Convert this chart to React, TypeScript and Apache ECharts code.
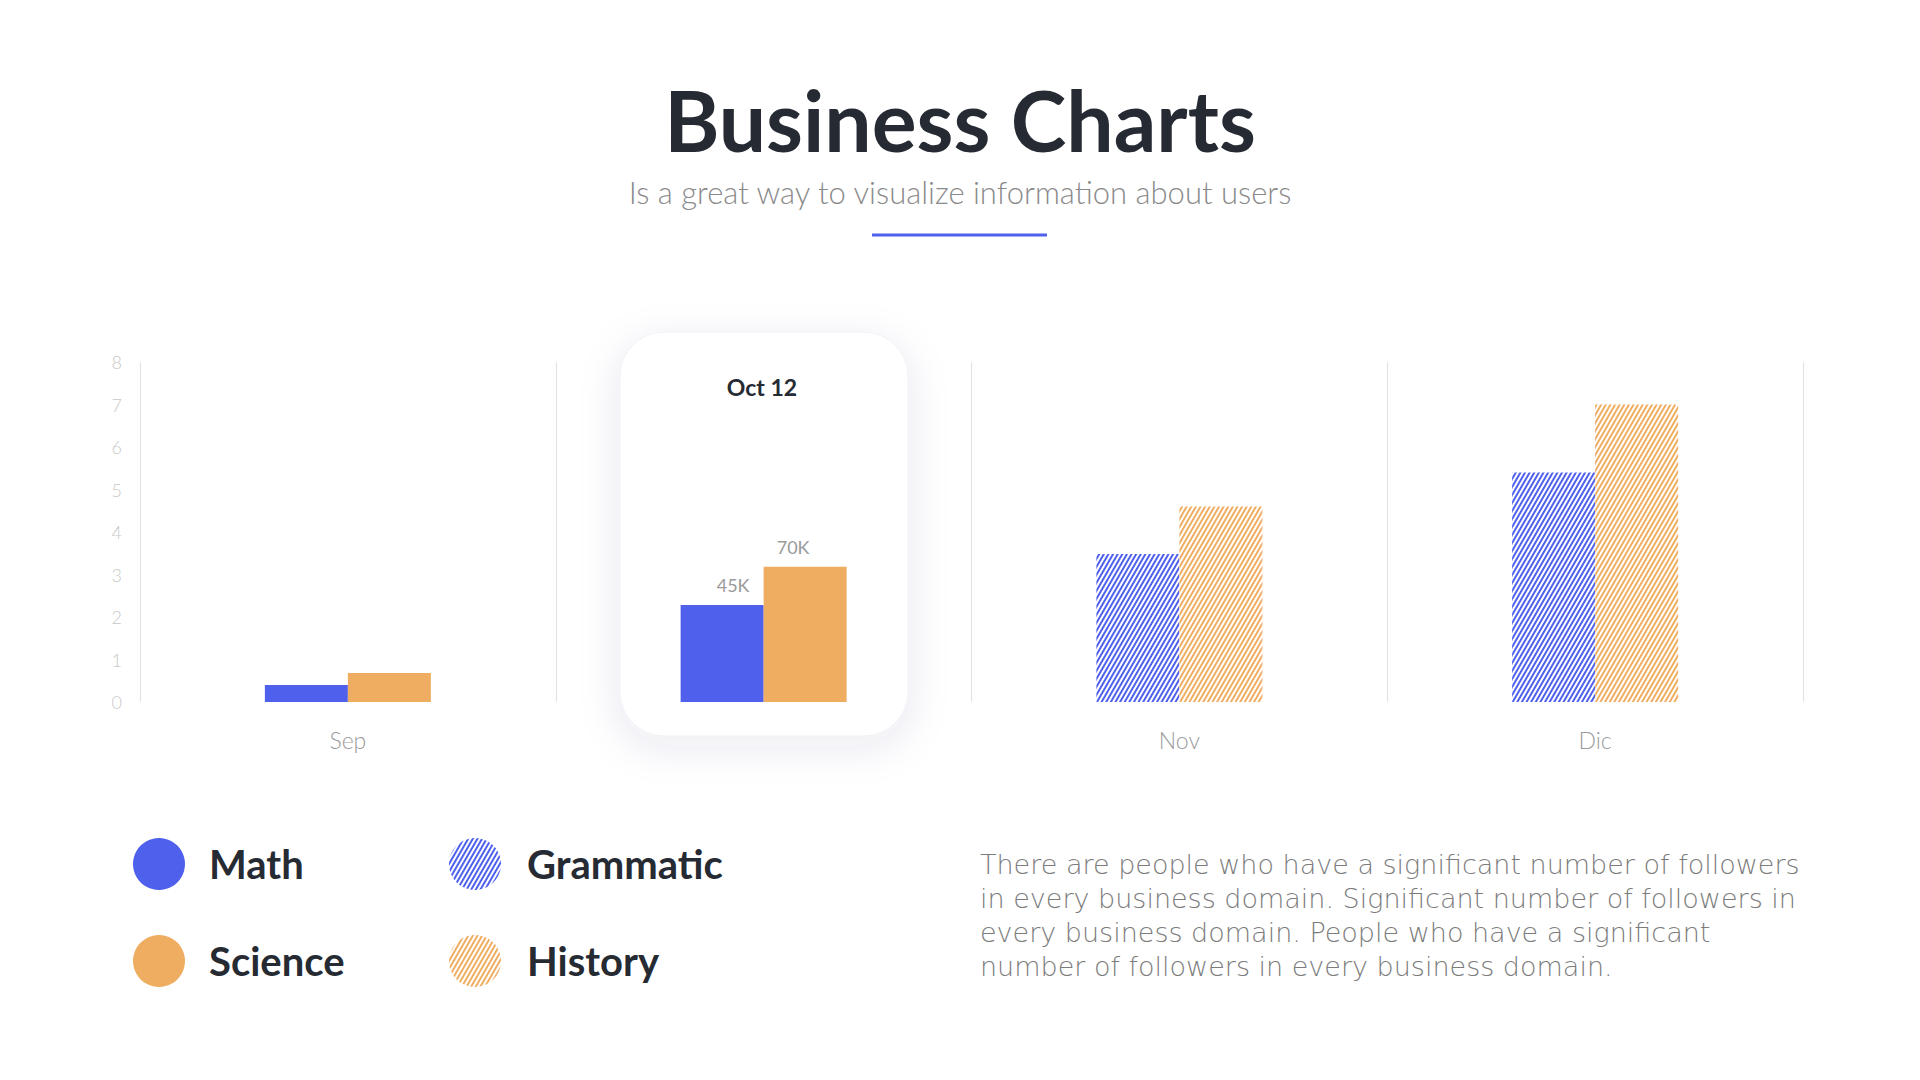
import React, { useEffect, useRef } from "react";
import * as echarts from "echarts";

// chart values
const months = ["Sep", "Oct", "Nov", "Dic"];
const mathValues = [0.4, 2.28, "-", "-"];
const scienceValues = [0.68, 3.18, "-", "-"];
const grammaticValues = ["-", "-", 3.48, 5.4];
const historyValues = ["-", "-", 4.6, 7.0];
const mathLabels = ["", "45K", "", ""];
const scienceLabels = ["", "70K", "", ""];
const highlightTitle = "Oct 12";
const description = [
  "There are people who have a significant number of followers",
  "in every business domain. Significant number of followers in",
  "every business domain. People who have a significant",
  "number of followers in every business domain.",
];

const BLUE = "#4f60ec";
const ORANGE = "#efad62";
const DARK = "#262b33";
const FONT = "Lato, 'Open Sans', sans-serif";
const WIDE_FONT = "'DejaVu Sans', Lato, sans-serif";

// diagonal hatching for the Nov / Dic bars and their legend icons
const stripes = (color: string) => ({
  symbol: "rect",
  symbolSize: 1,
  color,
  backgroundColor: "#ffffff",
  dashArrayX: [1, 0],
  dashArrayY: [2, 2],
  rotation: -Math.PI / 3,
});

const App = () => {
  const chartRef = useRef<HTMLDivElement>(null);

  useEffect(() => {
    if (!chartRef.current) return;
    const chart = echarts.init(chartRef.current, null, { renderer: "svg" });

    const labelStyle = (labels: string[], dx: number) => ({
      show: true,
      position: "top",
      distance: 11,
      offset: [dx, 0],
      color: "#9b9b9b",
      fontSize: 18,
      fontFamily: FONT,
      formatter: (p: any) => labels[p.dataIndex],
    });

    const option = {
      animation: false,
      backgroundColor: "#ffffff",
      title: [
        {
          text: "Business Charts",
          left: "center",
          top: 77,
          padding: 0,
          textStyle: { fontSize: 84, lineHeight: 84, fontWeight: "bold", color: DARK, fontFamily: FONT },
        },
        {
          text: "Is a great way to visualize information about users",
          left: "center",
          top: 176,
          padding: 0,
          textStyle: { fontSize: 31, lineHeight: 32, fontWeight: 300, color: "#8a8a8a", fontFamily: FONT },
        },
      ],
      grid: { left: 140, right: 117, top: 362, bottom: 378 },
      legend: [
        {
          data: ["Math", "Science"],
          orient: "vertical",
          left: 133,
          top: 838,
          padding: 0,
          icon: "circle",
          itemWidth: 52,
          itemHeight: 52,
          itemGap: 45,
          selectedMode: false,
          textStyle: { fontSize: 40, fontWeight: "bold", color: DARK, fontFamily: FONT, padding: [0, 0, 0, 19] },
        },
        {
          data: ["Grammatic", "History"],
          orient: "vertical",
          left: 449,
          top: 838,
          padding: 0,
          icon: "circle",
          itemWidth: 52,
          itemHeight: 52,
          itemGap: 45,
          selectedMode: false,
          textStyle: { fontSize: 40, fontWeight: "bold", color: DARK, fontFamily: FONT, padding: [0, 0, 0, 21] },
        },
      ],
      xAxis: {
        type: "category",
        data: months.map((m, i) => (i === 1 ? { value: m, textStyle: { color: "transparent" } } : m)),
        axisLine: { show: false },
        axisTick: { show: false },
        axisLabel: { margin: 26, fontSize: 23, color: "#9b9b9b", fontFamily: FONT, fontWeight: 300 },
        splitLine: { show: true, lineStyle: { color: "#e2e2e2", width: 1 } },
      },
      yAxis: {
        type: "value",
        min: 0,
        max: 8,
        interval: 1,
        axisLine: { show: false },
        axisTick: { show: false },
        splitLine: { show: false },
        axisLabel: { margin: 18, fontSize: 18, color: "#c9c9c9", fontFamily: FONT, fontWeight: 300 },
      },
      graphic: [
        {
          type: "rect",
          z: 0,
          shape: { x: 620, y: 332, width: 288, height: 404, r: 44 },
          style: {
            fill: "#ffffff",
            stroke: "#f0f0f6",
            lineWidth: 1,
            shadowBlur: 40,
            shadowOffsetY: 10,
            shadowColor: "rgba(60, 60, 110, 0.10)",
          },
        },
        {
          type: "text",
          x: 762,
          y: 387,
          style: {
            text: highlightTitle,
            fill: DARK,
            font: `bold 23px ${FONT}`,
            textAlign: "center",
            textVerticalAlign: "middle",
          },
        },
        {
          type: "rect",
          shape: { x: 872, y: 233.5, width: 175, height: 3 },
          style: { fill: BLUE },
        },
        {
          type: "text",
          x: 980,
          y: 847,
          style: {
            text: description.join("\n"),
            fill: "#7c7c7c",
            font: `200 27px ${WIDE_FONT}`,
            lineHeight: 34,
            textAlign: "left",
            textVerticalAlign: "top",
          },
        },
      ],
      series: [
        {
          name: "Math",
          type: "bar",
          stack: "a",
          barWidth: 83,
          barGap: "0%",
          data: mathValues,
          itemStyle: { color: BLUE },
          label: labelStyle(mathLabels, 11),
        },
        {
          name: "Grammatic",
          type: "bar",
          stack: "a",
          barWidth: 83,
          barGap: "0%",
          data: grammaticValues,
          itemStyle: { color: "#ffffff", decal: stripes(BLUE) },
        },
        {
          name: "Science",
          type: "bar",
          stack: "b",
          barWidth: 83,
          barGap: "0%",
          data: scienceValues,
          itemStyle: { color: ORANGE },
          label: labelStyle(scienceLabels, -12),
        },
        {
          name: "History",
          type: "bar",
          stack: "b",
          barWidth: 83,
          barGap: "0%",
          data: historyValues,
          itemStyle: { color: "#ffffff", decal: stripes(ORANGE) },
        },
      ],
    };

    chart.setOption(option as any);

    return () => {
      chart.dispose();
    };
  }, []);

  return (
    <div
      ref={chartRef}
      style={{ position: "fixed", left: 0, top: 0, width: "1920px", height: "1080px" }}
    ></div>
  );
};

export default App;
